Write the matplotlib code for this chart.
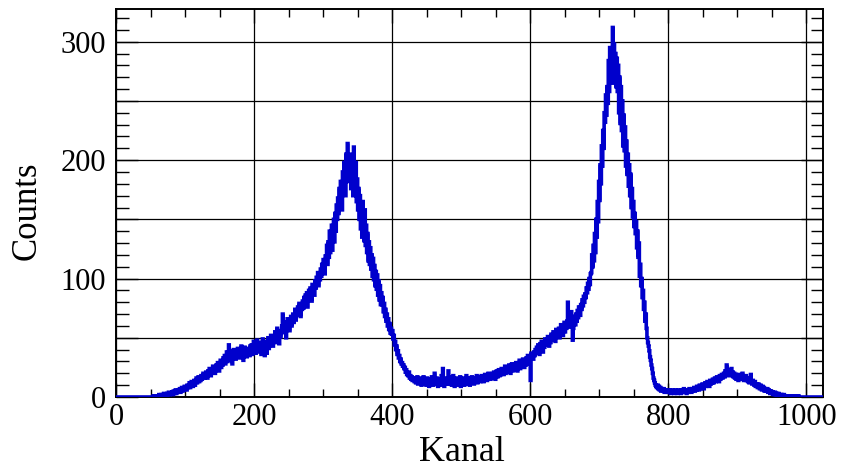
import matplotlib
matplotlib.use("Agg")
import matplotlib.pyplot as plt
from matplotlib.ticker import MultipleLocator, FuncFormatter
import numpy as np

# Counts per channel, channels 0..1023
counts = [
    0, 0, 0, 0, 0, 0, 0, 0, 0, 0, 0, 0, 0, 0, 0, 0,
    0, 0, 0, 0, 0, 0, 0, 0, 0, 0, 0, 0, 0, 0, 0, 0,
    0, 0, 0, 0, 0, 0, 0, 0, 0, 0, 0, 0, 0, 0, 0, 0,
    0, 0, 0, 0, 0, 0, 1, 0, 0, 1, 0, 1, 1, 0, 2, 1,
    1, 2, 1, 0, 2, 3, 1, 2, 2, 1, 3, 2, 4, 2, 3, 3,
    3, 4, 2, 5, 3, 4, 6, 3, 5, 4, 6, 5, 7, 4, 6, 8,
    5, 7, 6, 9, 7, 8, 6, 10, 8, 9, 12, 8, 10, 13, 11, 9,
    12, 14, 10, 13, 16, 12, 15, 17, 13, 16, 14, 18, 15, 17, 20, 16,
    19, 17, 21, 18, 16, 22, 19, 24, 20, 18, 23, 21, 26, 22, 25, 20,
    24, 27, 23, 29, 26, 22, 28, 31, 25, 30, 27, 33, 29, 35, 28, 32,
    38, 30, 34, 44, 31, 36, 33, 39, 28, 35, 40, 34, 37, 32, 38, 36,
    41, 34, 39, 33, 37, 43, 35, 40, 31, 38, 42, 36, 39, 34, 41, 37,
    40, 35, 43, 38, 44, 36, 41, 47, 39, 45, 37, 42, 48, 38, 44, 40,
    46, 41, 36, 44, 49, 39, 43, 35, 47, 42, 37, 45, 50, 41, 47, 44,
    52, 45, 49, 43, 51, 47, 55, 46, 50, 58, 48, 53, 45, 56, 51, 54,
    60, 70, 57, 63, 55, 59, 50, 62, 66, 58, 64, 56, 61, 68, 60, 65,
    70, 63, 67, 74, 65, 72, 69, 76, 70, 79, 73, 68, 77, 74, 81, 75,
    84, 78, 86, 80, 88, 76, 85, 90, 83, 92, 87, 81, 95, 89, 93, 86,
    98, 92, 101, 96, 105, 94, 103, 99, 108, 102, 112, 106, 116, 110, 104, 119,
    115, 128, 112, 131, 118, 140, 122, 127, 145, 124, 136, 150, 131, 155, 140, 162,
    150, 168, 155, 176, 160, 182, 171, 158, 190, 175, 198, 180, 170, 205, 188, 214,
    196, 182, 205, 190, 176, 200, 186, 170, 211, 194, 180, 198, 165, 184, 158, 176,
    150, 170, 142, 160, 135, 165, 148, 132, 158, 128, 145, 122, 138, 115, 131, 112,
    126, 108, 120, 102, 117, 99, 111, 94, 106, 91, 103, 86, 98, 82, 94, 78,
    88, 78, 84, 72, 79, 68, 74, 64, 70, 60, 66, 57, 62, 54, 58, 53,
    56, 49, 52, 44, 47, 40, 43, 36, 39, 33, 35, 30, 32, 28, 29, 26,
    27, 24, 25, 21, 23, 19, 20, 18, 21, 16, 18, 15, 17, 14, 16, 15,
    13, 16, 12, 15, 17, 11, 14, 12, 16, 13, 10, 15, 12, 17, 11, 14,
    13, 10, 16, 12, 14, 9, 15, 11, 13, 17, 12, 10, 14, 20, 11, 13,
    16, 12, 9, 14, 11, 15, 13, 18, 10, 24, 12, 9, 15, 13, 11, 16,
    12, 22, 14, 11, 17, 13, 10, 15, 18, 12, 9, 14, 16, 11, 13, 10,
    15, 12, 17, 9, 14, 11, 16, 13, 10, 15, 12, 18, 14, 11, 16, 13,
    10, 15, 13, 17, 12, 14, 11, 16, 13, 15, 18, 12, 16, 14, 17, 13,
    15, 18, 14, 17, 13, 16, 19, 15, 18, 14, 17, 20, 16, 19, 15, 18,
    17, 20, 16, 21, 18, 15, 19, 22, 17, 20, 23, 18, 21, 19, 24, 20,
    22, 19, 23, 26, 20, 24, 21, 25, 22, 27, 23, 20, 25, 28, 22, 26,
    24, 27, 23, 29, 25, 22, 28, 26, 31, 24, 27, 30, 26, 32, 28, 25,
    30, 27, 33, 29, 35, 31, 28, 34, 14, 37, 33, 36, 32, 38, 35, 40,
    37, 42, 39, 44, 40, 36, 45, 41, 47, 43, 38, 46, 42, 49, 44, 48,
    45, 51, 47, 43, 50, 46, 53, 48, 52, 55, 49, 54, 47, 57, 51, 56,
    53, 58, 50, 56, 61, 54, 59, 52, 57, 63, 55, 60, 58, 64, 80, 61,
    59, 66, 62, 72, 60, 48, 58, 63, 68, 61, 70, 64, 73, 67, 76, 71,
    69, 78, 74, 82, 77, 85, 80, 87, 84, 92, 88, 96, 91, 100, 95, 104,
    105, 120, 110, 128, 115, 138, 122, 150, 135, 165, 148, 182, 166, 196, 180, 212,
    195, 225, 210, 240, 232, 255, 238, 262, 248, 284, 258, 295, 270, 290, 265, 312,
    280, 298, 272, 290, 262, 286, 258, 280, 240, 270, 231, 262, 225, 250, 212, 238,
    208, 228, 195, 216, 188, 205, 178, 196, 170, 188, 160, 176, 152, 165, 144, 155,
    138, 148, 126, 140, 118, 130, 102, 112, 94, 100, 84, 90, 74, 80, 64, 70,
    58, 50, 46, 43, 39, 34, 31, 27, 24, 20, 16, 14, 12, 10, 9, 8,
    10, 7, 9, 6, 8, 5, 7, 6, 5, 7, 4, 6, 5, 4, 6, 5,
    4, 6, 5, 3, 5, 4, 6, 5, 3, 4, 6, 5, 4, 3, 5, 6,
    4, 5, 3, 6, 4, 5, 7, 4, 5, 6, 3, 5, 6, 4, 7, 5,
    6, 4, 7, 5, 6, 8, 5, 7, 6, 9, 7, 8, 6, 10, 7, 9,
    8, 11, 9, 7, 10, 12, 9, 11, 13, 10, 12, 9, 14, 11, 13, 12,
    15, 12, 14, 16, 13, 15, 17, 14, 16, 13, 18, 15, 17, 19, 16, 18,
    20, 17, 22, 19, 27, 21, 18, 23, 20, 22, 19, 24, 18, 21, 17, 20,
    16, 19, 15, 18, 17, 14, 19, 16, 18, 15, 17, 20, 16, 14, 17, 15,
    18, 14, 16, 13, 15, 12, 14, 19, 13, 11, 14, 12, 10, 13, 9, 11,
    10, 8, 11, 9, 7, 10, 8, 6, 9, 7, 8, 5, 7, 6, 5, 7,
    4, 6, 5, 3, 5, 4, 3, 4, 2, 3, 4, 2, 3, 2, 1, 3,
    2, 1, 2, 1, 2, 0, 1, 2, 1, 0, 1, 1, 0, 1, 0, 1,
    0, 1, 0, 0, 1, 0, 0, 1, 0, 0, 0, 0, 1, 0, 0, 0,
    0, 0, 0, 0, 0, 0, 0, 0, 0, 0, 0, 0, 0, 0, 0, 0,
    0, 0, 0, 0, 0, 0, 0, 0, 0, 0, 0, 0, 0, 0, 0, 0,
]

x_title = "Kanal"
y_title = "Counts"
x_major_step = 200
x_minor_step = 50
y_major_step = 50
y_label_step = 100
y_minor_step = 10

plt.rcParams['font.family'] = ['Liberation Serif', 'DejaVu Serif']

fig = plt.figure(figsize=(8.42, 4.69), dpi=100)
ax = fig.add_axes([116 / 842, 1 - 397 / 469, 707 / 842, 388 / 469])

edges = np.arange(len(counts) + 1)
ax.stairs(counts, edges, color='#0000cc', linewidth=2.6, zorder=3)

ax.set_xlim(0, len(counts))
ax.set_ylim(0, 1.05 * max(counts))

ax.xaxis.set_major_locator(MultipleLocator(x_major_step))
ax.xaxis.set_minor_locator(MultipleLocator(x_minor_step))
ax.yaxis.set_major_locator(MultipleLocator(y_major_step))
ax.yaxis.set_minor_locator(MultipleLocator(y_minor_step))
ax.yaxis.set_major_formatter(
    FuncFormatter(lambda v, _: f"{int(round(v))}" if round(v) % y_label_step == 0 else ""))

ax.grid(True, which='major', color='black', linewidth=0.9, zorder=1)
ax.set_axisbelow(True)

ax.tick_params(which='both', direction='in', top=True, right=True,
               labelsize=22, color='black')
ax.tick_params(axis='x', which='major', length=10, width=1, pad=4)
ax.tick_params(axis='x', which='minor', length=6, width=1)
ax.tick_params(axis='y', which='major', length=16, width=1, pad=7)
ax.tick_params(axis='y', which='minor', length=9, width=1)

for s in ax.spines.values():
    s.set_linewidth(1.4)
    s.set_color('black')

ax.set_xlabel(x_title, fontsize=26)
ax.set_ylabel(y_title, fontsize=25)
ax.xaxis.set_label_coords((461.5 - 116) / 707, -0.100)
ax.yaxis.set_label_coords(-0.102, 0.48)

fig.savefig("out.png", dpi=100)
